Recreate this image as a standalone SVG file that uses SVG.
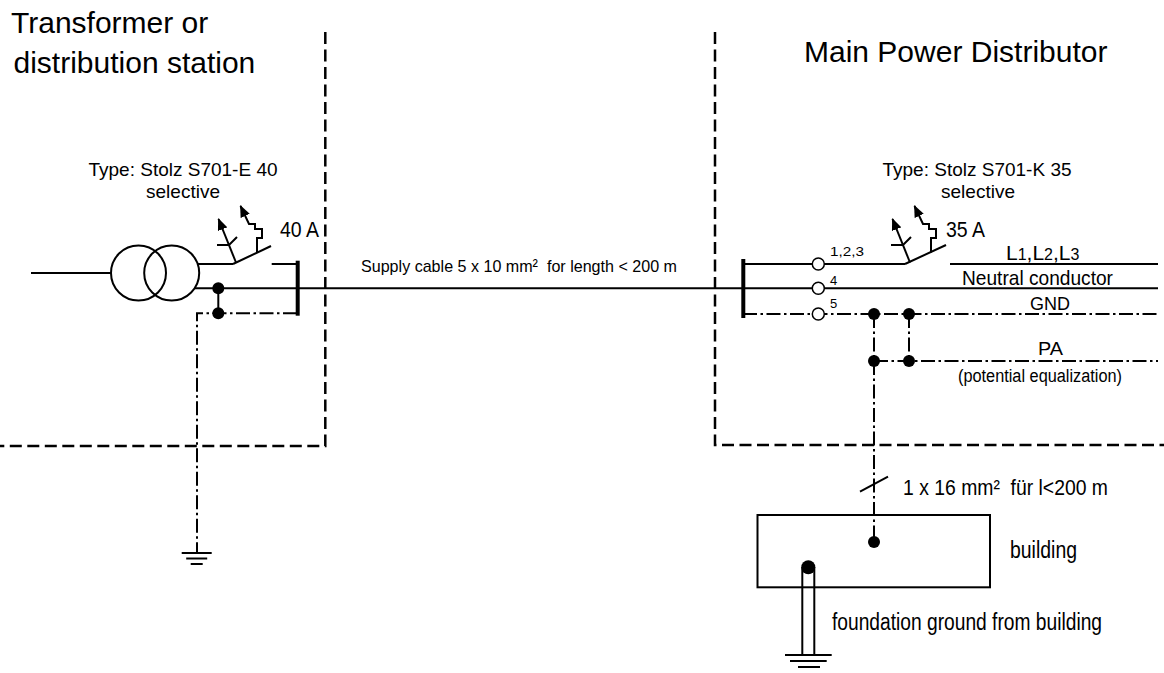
<svg xmlns="http://www.w3.org/2000/svg" xmlns:xlink="http://www.w3.org/1999/xlink" width="1164" height="673" viewBox="0 0 1164 673">
<style>
text{font-family:"Liberation Sans",Arial,Helvetica,sans-serif;fill:#000}
.t30{font-size:30px}
.t19{font-size:19px}
.ln{stroke:#000;stroke-width:2;fill:none}
.dd{stroke:#000;stroke-width:2;fill:none;stroke-dasharray:14 3.5 2.5 3.5}
.dash{stroke:#000;stroke-width:2.5;fill:none;stroke-dasharray:12 5.5}
.bus{stroke:#000;stroke-width:4}
.dot{fill:#000}
.term{fill:#fff;stroke:#000;stroke-width:1.5}
</style>
<defs>
<marker id="ah" viewBox="0 0 12 10" refX="11" refY="5" markerWidth="12" markerHeight="10" markerUnits="userSpaceOnUse" orient="auto"><path d="M0,0L12,5L0,10z" fill="#000"/></marker>
<g id="actuator">
<line x1="236" y1="262.5" x2="218.5" y2="219" class="ln" marker-end="url(#ah)"/>
<polyline points="217,245 229,245 237,237" class="ln"/>
<polyline points="257,252.6 257,238 262,238 262,229 255,229 255,224 249,224 240.5,206" class="ln" marker-end="url(#ah)"/>
</g>
<g id="earth">
<line x1="-15" y1="0" x2="15" y2="0" class="ln"/>
<line x1="-10.5" y1="5.5" x2="10.5" y2="5.5" class="ln"/>
<line x1="-6" y1="11" x2="6" y2="11" class="ln"/>
</g>
</defs>

<g id="titles">
<text class="t30" x="11" y="33">Transformer or</text>
<text class="t30" x="13.5" y="72.5">distribution station</text>
<text class="t30" x="804" y="62">Main Power Distributor</text>
</g>

<g id="boundaries">
<path d="M325.3,32 V446 H0" class="dash"/>
<path d="M715,32 V445 H1164" class="dash"/>
</g>

<g id="connectors">
<line x1="31" y1="273" x2="111" y2="273" class="ln"/>
<line x1="197.5" y1="264" x2="233" y2="264" class="ln"/>
<line x1="195" y1="288.3" x2="1158" y2="288.3" class="ln"/>
<line x1="218.3" y1="288.3" x2="218.3" y2="313.3" class="ln"/>
<path d="M297,313.3 H197 V553" class="dd"/>
<line x1="271.7" y1="264" x2="297.7" y2="264" class="ln"/>
<line x1="743" y1="264" x2="905" y2="264" class="ln"/>
<line x1="950" y1="264" x2="1158" y2="264" class="ln"/>
<line x1="743" y1="314" x2="1158" y2="314" class="dd"/>
<line x1="874" y1="361" x2="1158" y2="361" class="dd"/>
<line x1="909" y1="314" x2="909" y2="361" class="dd"/>
<line x1="874" y1="314" x2="874" y2="542" class="dd"/>
<line x1="860" y1="491.7" x2="888" y2="476.7" class="ln"/>
</g>

<g id="transformer">
<circle cx="138.5" cy="273" r="27.5" class="ln"/>
<circle cx="171.7" cy="273" r="27.5" class="ln"/>
</g>

<g id="switch-left">
<line x1="233" y1="264" x2="271" y2="246" class="ln"/>
<use xlink:href="#actuator" href="#actuator"/>
<text x="280" y="236.7" font-size="22" textLength="39" lengthAdjust="spacingAndGlyphs">40 A</text>
<text class="t19" x="183" y="175.5" text-anchor="middle">Type: Stolz S701-E 40</text>
<text class="t19" x="183" y="198" text-anchor="middle">selective</text>
</g>

<g id="busbar-left">
<line x1="297.7" y1="260.7" x2="297.7" y2="315.7" class="bus"/>
<circle cx="218.3" cy="288.3" r="6" class="dot"/>
<circle cx="218.3" cy="313.3" r="6" class="dot"/>
</g>

<g id="ground-left">
<use xlink:href="#earth" href="#earth" x="196.7" y="553"/>
</g>

<g id="supply-cable-label">
<text x="361" y="272" font-size="17" textLength="316" lengthAdjust="spacingAndGlyphs">Supply cable 5 x 10 mm² &#160;for length &lt; 200 m</text>
</g>

<g id="busbar-right">
<line x1="743.3" y1="259" x2="743.3" y2="318" class="bus"/>
</g>

<g id="terminals">
<circle cx="818.3" cy="264" r="6" class="term"/>
<circle cx="818.3" cy="288.3" r="6" class="term"/>
<circle cx="818.3" cy="314" r="6" class="term"/>
<text x="830" y="256" font-size="13" textLength="34" lengthAdjust="spacingAndGlyphs">1,2,3</text>
<text x="830" y="285" font-size="13">4</text>
<text x="830" y="308.3" font-size="13">5</text>
</g>

<g id="switch-right">
<line x1="905" y1="264" x2="946" y2="245" class="ln"/>
<use xlink:href="#actuator" href="#actuator" x="674"/>
<text x="946" y="236.7" font-size="22" textLength="39" lengthAdjust="spacingAndGlyphs">35 A</text>
<text class="t19" x="977" y="175.5" text-anchor="middle">Type: Stolz S701-K 35</text>
<text class="t19" x="978" y="198" text-anchor="middle">selective</text>
</g>

<g id="conductor-labels">
<text x="1006" y="260" font-size="21">L<tspan font-size="16">1</tspan>,L<tspan font-size="16">2</tspan>,L<tspan font-size="16">3</tspan></text>
<text x="962" y="285" font-size="21" textLength="151" lengthAdjust="spacingAndGlyphs">Neutral conductor</text>
<text x="1030" y="310" font-size="19" textLength="40" lengthAdjust="spacingAndGlyphs">GND</text>
</g>

<g id="pa-bar">
<circle cx="874" cy="314" r="6" class="dot"/>
<circle cx="909" cy="314" r="6" class="dot"/>
<circle cx="874" cy="361" r="6" class="dot"/>
<circle cx="909" cy="361" r="6" class="dot"/>
<text x="1038" y="355" font-size="19" textLength="25" lengthAdjust="spacingAndGlyphs">PA</text>
<text x="958" y="382" font-size="18" textLength="164" lengthAdjust="spacingAndGlyphs">(potential equalization)</text>
</g>

<g id="earthing-conductor-label">
<text x="903" y="495" font-size="22" textLength="205" lengthAdjust="spacingAndGlyphs">1 x 16 mm² &#160;für l&lt;200 m</text>
</g>

<g id="building">
<rect x="757.5" y="515" width="232.5" height="72.3" class="ln"/>
<circle cx="874" cy="542" r="6" class="dot"/>
<text x="1010" y="558" font-size="23" textLength="67" lengthAdjust="spacingAndGlyphs">building</text>
</g>

<g id="foundation-ground">
<line x1="802.3" y1="567" x2="802.3" y2="655" class="ln"/>
<line x1="814.3" y1="567" x2="814.3" y2="655" class="ln"/>
<circle cx="808.3" cy="567.3" r="7" class="dot"/>
<line x1="785" y1="655" x2="831.7" y2="655" class="ln"/>
<line x1="790" y1="661" x2="826.7" y2="661" class="ln"/>
<line x1="798" y1="667" x2="820" y2="667" class="ln"/>
<text x="832" y="630" font-size="23" textLength="270" lengthAdjust="spacingAndGlyphs">foundation ground from building</text>
</g>
</svg>
